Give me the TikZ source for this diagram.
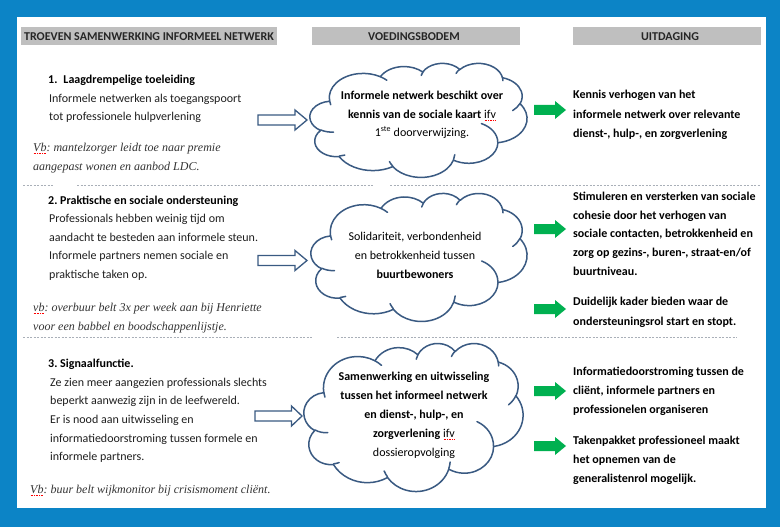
\documentclass[tikz,border=0pt]{standalone}
\usepackage{fontspec}
\setmainfont{Carlito}
\newfontfamily\itserif{Liberation Serif}
\frenchspacing
\definecolor{frameblue}{HTML}{0C84C6}
\definecolor{hdrgray}{HTML}{BFBFBF}
\definecolor{cloudline}{HTML}{3A5A82}
\definecolor{arrgreen}{HTML}{00B050}
\definecolor{sepgray}{HTML}{A9AFB8}
% red dotted spell-check underline
\newcommand\spellu[1]{\leavevmode\setbox0\hbox{#1}\rlap{\raisebox{-2.4pt}{\color{red}\hbox to \wd0{\xleaders\hbox to 1.5pt{\hss\rule{0.8pt}{0.6pt}\hss}\hfill}}}\box0}
% OOXML-style elliptical arc (visual angles converted to parametric)
\newcommand\oarc[4]{arc[x radius=#1, y radius=#2, start angle={atan2((#1)*sin(#3),(#2)*cos(#3))}, delta angle={mod(atan2((#1)*sin((#3)+(#4)),(#2)*cos((#3)+(#4)))-atan2((#1)*sin(#3),(#2)*cos(#3))+720,360)}]}
% Word cloud shape: x0 y0 w h
\newcommand\wordcloud[4]{%
  \pgfmathsetmacro\cldx{#3/432}%
  \pgfmathsetmacro\cldy{-#4/432}%
  \begin{scope}[shift={(#1,#2)}, x=\cldx pt, y=\cldy pt, color=cloudline, line width=1.5pt, line join=round, line cap=round]
    \filldraw[fill=white] (39.00,143.70)
      \oarc{67.53}{91.90}{-190.48748}{123.78053}
      \oarc{53.33}{72.67}{-144.10238}{89.94523}
      \oarc{43.65}{59.45}{-145.80792}{99.72302}
      \oarc{48.57}{65.95}{-130.98607}{117.24173}
      \oarc{53.33}{72.73}{-78.70888}{109.02692}
      \oarc{67.75}{92.20}{-46.26725}{130.269}
      \oarc{57.85}{78.67}{0.62502}{114.03333}
      \oarc{67.52}{92.15}{22.4516}{115.17255}
      \oarc{77.20}{105.43}{66.24263}{75.71102}
      \oarc{43.60}{59.18}{-274.94208}{146.73557}
      \oarc{43.45}{59.45}{-246.8285}{152.51885} -- cycle;
    \draw (46.93,261.77) \oarc{43.45}{59.45}{86.742}{26.4295}
      (69.28,348.99) \oarc{43.60}{59.18}{73.61047}{11.44747}
      (164.78,390.90) \oarc{67.52}{92.15}{137.62415}{14.0811}
      (288.27,347.51) \oarc{67.52}{92.15}{6.45327}{15.99835}
      (341.29,229.54) \oarc{57.85}{78.67}{-70.29235}{70.91737}
      (417.98,153.54) \oarc{53.33}{72.73}{30.31803}{27.7515}
      (383.24,54.26) \oarc{48.57}{65.95}{-13.74433}{14.8589}
      (290.78,39.52) \oarc{48.57}{65.95}{-149.18145}{18.19537}
      (221.41,47.20) \oarc{43.65}{59.45}{-163.49427}{17.68635}
      (140.00,51.92) \oarc{67.53}{91.90}{-66.70695}{12.31935}
      (41.27,157.89) \oarc{67.53}{91.90}{157.65435}{11.85817};
  \end{scope}}
% hollow block arrow: xl xhead xtip yc
\newcommand\harrow[4]{\draw[cloudline, line width=1.3pt, line join=miter, fill=white]
  ({#1},{#4-5}) -- ({#2},{#4-5}) -- ({#2},{#4-10}) -- ({#3},{#4}) -- ({#2},{#4+10}) -- ({#2},{#4+5}) -- ({#1},{#4+5}) -- cycle;}
% green block arrow: yc
\newcommand\garrow[1]{\fill[arrgreen]
  (534,{#1-5}) -- (555,{#1-5}) -- (555,{#1-9}) -- (566,{#1}) -- (555,{#1+9}) -- (555,{#1+5}) -- (534,{#1+5}) -- cycle;}
\begin{document}
\begin{tikzpicture}[x=1pt,y=-1pt,
  lt/.style={anchor=base west, inner sep=0pt, text=black!88, font=\fontsize{12}{14}\selectfont},
  lb/.style={anchor=base west, inner sep=0pt, text=black, font=\fontsize{12}{14}\selectfont\bfseries},
  li/.style={anchor=base west, inner sep=0pt, text=black!80, font=\fontsize{12}{14}\selectfont\itserif\itshape},
  ctb/.style={anchor=base, inner sep=0pt, text=black, font=\fontsize{12}{14}\selectfont\bfseries},
  ctr/.style={anchor=base, inner sep=0pt, text=black, font=\fontsize{12}{14}\selectfont},
  hdr/.style={anchor=base, inner sep=0pt, text=black!85, font=\fontsize{12}{14}\selectfont\bfseries},
  sep/.style={sepgray, line width=0.7pt, dash pattern=on 2.2pt off 1.3pt}]
\path[use as bounding box] (0,0) rectangle (780,527);
\fill[frameblue] (0,0) rectangle (780,527);
\fill[white] (17,17) rectangle (766,508);

% header bars
\fill[hdrgray] (21,27) rectangle (277,45);
\fill[hdrgray] (312,27) rectangle (520,45);
\fill[hdrgray] (573,27) rectangle (761,45);
\node[hdr] (h1) at (149,40.3) {TROEVEN SAMENWERKING INFORMEEL NETWERK};
\node[hdr] (h2) at (414,40.3) {VOEDINGSBODEM};
\node[hdr] (h3) at (670,40.3) {UITDAGING};

% separators
\draw[sep] (23,185) -- (53,185) (77,185) -- (373,185) (390,185) -- (760,185);
\draw[sep] (23,337) -- (312,337) (337,337) -- (737,337);

% section 1
\node[lb] (s1t) at (48,84) {1.\hspace{6pt}Laagdrempelige toeleiding};
\node[lt] (s1a) at (49,102.5) {Informele netwerken als toegangspoort};
\node[lt] (s1b) at (49,121) {tot professionele hulpverlening};
\node[li] (s1c) at (33,151) {\spellu{Vb}: mantelzorger leidt toe naar premie};
\node[li] (s1d) at (33,170.5) {aangepast wonen en aanbod LDC.};

% section 2
\node[lb] (s2t) at (48,204) {2. Praktische en sociale ondersteuning};
\node[lt] (s2a) at (49,222.5) {Professionals hebben weinig tijd om};
\node[lt] (s2b) at (49,241.2) {aandacht te besteden aan informele steun.};
\node[lt] (s2c) at (49,259.9) {Informele partners nemen sociale en};
\node[lt] (s2d) at (49,278.6) {praktische taken op.};
\node[li] (s2e) at (33,311) {\spellu{vb}: overbuur belt 3x per week aan bij Henriette};
\node[li] (s2f) at (33,330) {voor een babbel en boodschappenlijstje.};

% section 3
\node[lb] (s3t) at (48,367.5) {3. Signaalfunctie.};
\node[lt] (s3a) at (50,386) {Ze zien meer aangezien professionals slechts};
\node[lt] (s3b) at (50,404.7) {beperkt aanwezig zijn in de leefwereld.};
\node[lt] (s3c) at (50,423.4) {Er is nood aan uitwisseling en};
\node[lt] (s3d) at (50,442.1) {informatiedoorstroming tussen formele en};
\node[lt] (s3e) at (50,460.8) {informele partners.};
\node[li] (s3f) at (30,493) {\spellu{Vb}: buur belt wijkmonitor bij crisismoment cliënt.};

% hollow arrows
\harrow{258}{295}{307}{120}
\harrow{258}{295}{307}{260.5}
\harrow{255}{291.5}{302}{416}

% clouds
\wordcloud{310}{63}{217}{114}
\wordcloud{311}{193}{216}{128}
\wordcloud{304}{343}{219}{148}

\node[ctb] (c1a) at (422,99.7) {Informele netwerk beschikt over};
\node[ctb] (c1b) at (422,118) {kennis van de sociale kaart \spellu{\mdseries ifv}};
\node[ctr] (c1c) at (422,136) {1\textsuperscript{ste} doorverwijzing.};

\node[ctr] (c2a) at (415,240.7) {Solidariteit, verbondenheid};
\node[ctr] (c2b) at (415,259) {en betrokkenheid tussen};
\node[ctb] (c2c) at (415,278) {buurtbewoners};

\node[ctb] (c3a) at (414,380.7) {Samenwerking en uitwisseling};
\node[ctb] (c3b) at (414,399.3) {tussen het informeel netwerk};
\node[ctb] (c3c) at (414,418) {en dienst-, hulp-, en};
\node[ctb] (c3d) at (414,437.3) {zorgverlening \spellu{\mdseries ifv}};
\node[ctr] (c3e) at (414,456.3) {dossieropvolging};

% green arrows
\garrow{110}
\garrow{229}
\garrow{309}
\garrow{391}
\garrow{446}

% right column
\node[lb] (r1a) at (573,99) {Kennis verhogen van het};
\node[lb] (r1b) at (573,118) {informele netwerk over relevante};
\node[lb] (r1c) at (573,137) {dienst-, hulp-, en zorgverlening};
\node[lb] (r2a) at (573,200.5) {Stimuleren en versterken van sociale};
\node[lb] (r2b) at (573,219.2) {cohesie door het verhogen van};
\node[lb] (r2c) at (573,237.9) {sociale contacten, betrokkenheid en};
\node[lb] (r2d) at (573,256.6) {zorg op gezins-, buren-, straat-en/of};
\node[lb] (r2e) at (573,275.3) {buurtniveau.};
\node[lb] (r3a) at (573,305.5) {Duidelijk kader bieden waar de};
\node[lb] (r3b) at (573,325.5) {ondersteuningsrol start en stopt.};
\node[lb] (r4a) at (573,375.7) {Informatiedoorstroming tussen de};
\node[lb] (r4b) at (573,394.5) {cliënt, informele partners en};
\node[lb] (r4c) at (573,413.5) {professionelen organiseren};
\node[lb] (r5a) at (573,444) {Takenpakket professioneel maakt};
\node[lb] (r5b) at (573,463.2) {het opnemen van de};
\node[lb] (r5c) at (573,482.3) {generalistenrol mogelijk.};
\end{tikzpicture}
\end{document}
